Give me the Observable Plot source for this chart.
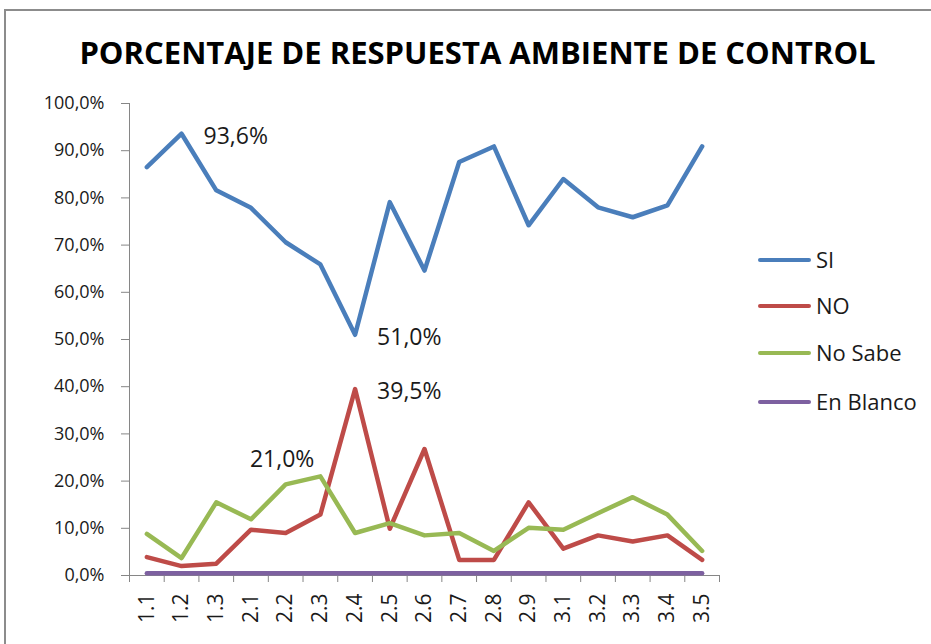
<!DOCTYPE html>
<html>
<head>
<meta charset="utf-8">
<script src="https://cdn.jsdelivr.net/npm/d3@7"></script>
<script src="https://cdn.jsdelivr.net/npm/@observablehq/plot@0.6"></script>
<style>
  html, body { margin: 0; padding: 0; background: #fff; }
  #page { position: relative; width: 931px; height: 644px; overflow: hidden; font-family: "Open Sans", sans-serif; }
  #frame { position: absolute; left: 4px; top: 9px; width: 940px; height: 700px; border-left: 2px solid #8c8c8c; border-top: 2px solid #8c8c8c; }
  #title { position: absolute; left: 0; top: 37px; width: 955px; text-align: center; font-weight: 700; font-size: 31px; line-height: 1; color: #000; white-space: nowrap; }
  #chart { position: absolute; left: 0; top: 80px; }
  #legend { position: absolute; left: 758px; top: 0; }
  .item { position: absolute; left: 0; white-space: nowrap; font-size: 22px; line-height: 1; color: #1a1a1a; }
  .swatch { position: absolute; left: 0; width: 53px; height: 4px; border-radius: 2px; }
  .lbl { position: absolute; left: 58px; }
</style>
</head>
<body>
<div id="page">
  <div id="frame"></div>
  <div id="title"></div>
  <div id="chart"></div>
  <div id="legend"></div>
</div>
<script>
const titleText = "PORCENTAJE DE RESPUESTA AMBIENTE DE CONTROL";
const categories = ["1.1","1.2","1.3","2.1","2.2","2.3","2.4","2.5","2.6","2.7","2.8","2.9","3.1","3.2","3.3","3.4","3.5"];
const seriesNames = ["SI", "NO", "No Sabe", "En Blanco"];
const seriesColors = ["#4a7ebb", "#be4b48", "#98b954", "#7d60a0"];
const si       = [86.5, 93.6, 81.6, 77.9, 70.6, 65.9, 51.0, 79.1, 64.6, 87.6, 90.9, 74.2, 84.0, 78.0, 75.9, 78.4, 90.9];
const no       = [3.9, 2.0, 2.5, 9.7, 9.0, 12.9, 39.5, 9.9, 26.8, 3.3, 3.3, 15.5, 5.7, 8.5, 7.2, 8.5, 3.3];
const noSabe   = [8.8, 3.7, 15.5, 11.9, 19.3, 21.0, 9.0, 11.1, 8.5, 9.0, 5.2, 10.1, 9.7, 13.2, 16.6, 12.9, 5.2];
const enBlanco = [0.5, 0.5, 0.5, 0.5, 0.5, 0.5, 0.5, 0.5, 0.5, 0.5, 0.5, 0.5, 0.5, 0.5, 0.5, 0.5, 0.5];
const yTicks = [0, 10, 20, 30, 40, 50, 60, 70, 80, 90, 100];
// annotated points: [series, category]
const annotated = [["SI", "1.2"], ["SI", "2.4"], ["NO", "2.4"], ["No Sabe", "2.3"]];

const seriesValues = [si, no, noSabe, enBlanco];
const rows = [];
seriesNames.forEach((s, k) => seriesValues[k].forEach((v, i) => rows.push({series: s, i, cat: categories[i], v})));
const labelRows = annotated.map(([s, c]) => rows.find(r => r.series === s && r.cat === c));
const fmt = v => v.toFixed(1).replace(".", ",") + "%";
const axisGray = "#868686";
const n = categories.length;

document.getElementById("title").textContent = titleText;

const plot = Plot.plot({
  width: 931,
  height: 564,
  marginLeft: 129,
  marginRight: 212,
  marginTop: 23,
  marginBottom: 69,
  style: {fontFamily: "'Open Sans', sans-serif", background: "transparent", overflow: "visible"},
  x: {type: "linear", domain: [-0.5, n - 0.5], axis: null, label: null},
  y: {domain: [0, 100], axis: null, label: null},
  color: {domain: seriesNames, range: seriesColors},
  marks: [
    Plot.axisY({ticks: yTicks, tickFormat: fmt, tickSize: 8, tickPadding: 17, fontSize: 18, stroke: axisGray, fill: "#1a1a1a", label: null}),
    Plot.axisX({ticks: d3.range(n), tickFormat: i => categories[i], tickSize: 0, tickPadding: 18, tickRotate: -90, fontSize: 21, fill: "#1a1a1a", label: null}),
    Plot.axisX({ticks: d3.range(n + 1).map(i => i - 0.5), tickFormat: () => "", tickSize: 7, stroke: axisGray, label: null}),
    Plot.ruleX([-0.5], {stroke: axisGray}),
    Plot.ruleY([0], {stroke: axisGray}),
    Plot.lineY(rows, {x: "i", y: "v", z: "series", stroke: "series", strokeWidth: 4.5, strokeLinejoin: "round", strokeLinecap: "round"}),
    Plot.text(labelRows.filter(r => r.series !== "No Sabe"), {x: "i", y: "v", text: d => fmt(d.v), textAnchor: "start", dx: 22, dy: 3, fontSize: 23, fill: "#1a1a1a"}),
    Plot.text(labelRows.filter(r => r.series === "No Sabe"), {x: "i", y: "v", text: d => fmt(d.v), textAnchor: "end", dx: -6, dy: -17, fontSize: 23, fill: "#1a1a1a"})
  ]
});
document.getElementById("chart").appendChild(plot);

const legendTops = [260, 306, 353, 402];
const legend = d3.select("#legend");
seriesNames.forEach((s, k) => {
  const item = legend.append("div").attr("class", "item").style("top", (legendTops[k]) + "px");
  item.append("div").attr("class", "swatch").style("background", seriesColors[k]).style("top", "-2px");
  item.append("div").attr("class", "lbl").style("top", "-12px").text(s);
});
</script>
</body>
</html>
